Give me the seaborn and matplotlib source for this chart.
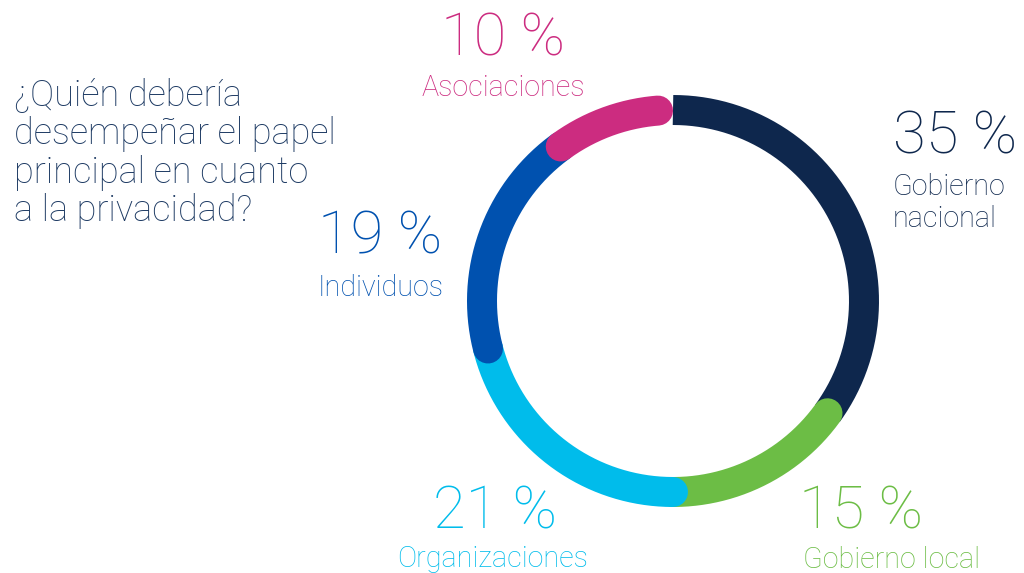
import numpy as np
import matplotlib
matplotlib.use("Agg")
import matplotlib.pyplot as plt
import seaborn as sns

# Survey shares, listed clockwise from 12 o'clock
categories = ["Gobierno nacional", "Gobierno local", "Organizaciones", "Individuos", "Asociaciones"]
labels = ["Gobierno\nnacional", "Gobierno local", "Organizaciones", "Individuos", "Asociaciones"]
shares = [35, 15, 21, 19, 10]
colors = ["#0e274d", "#6cbd45", "#00bceb", "#0051af", "#cc2c80"]
title = "¿Quién debería\ndesempeñar el papel\nprincipal en cuanto\na la privacidad?"

sns.set_theme(style="white")
plt.rcParams["font.family"] = ["Roboto", "DejaVu Sans"]

W, H, DPI = 1024, 573, 100
fig = plt.figure(figsize=(W / DPI, H / DPI), dpi=DPI)
ax = fig.add_axes([0, 0, 1, 1])
ax.set_xlim(0, W)
ax.set_ylim(H, 0)
ax.set_aspect("equal")
ax.axis("off")

cx, cy, r = 673, 301, 191
ring_px = 30
lw = ring_px * 72 / DPI
cap_deg = np.degrees((ring_px / 2) / r)

bounds = np.concatenate([[0], np.cumsum(shares)]) / 100 * 360


def arc(a0, a1, color, z, cap="round"):
    t = np.radians(np.linspace(a0, a1, 300))
    x = cx + r * np.sin(t)
    y = cy - r * np.cos(t)
    ax.plot(x, y, color=color, lw=lw, solid_capstyle=cap, zorder=z)


n = len(shares)
for i in range(n):
    a0, a1 = bounds[i], bounds[i + 1]
    if i == 0:
        # first segment: both ends sit under the neighbouring caps
        arc(a0, a1, colors[i], 1, cap="butt")
    elif i == n - 1:
        arc(a0, a1 - cap_deg, colors[i], i + 1)
    else:
        arc(a0, a1, colors[i], i + 1)

# Label blocks: percent anchor, label anchor (top of first line), alignment
spots = [
    ((893, 137), (893, 173), "left"),
    ((861, 512), (803, 546), "left"),
    ((495, 512), (493, 545), "center"),
    ((318, 237), (318, 274), "left"),
    ((503, 39), (503, 74), "center"),
]
pct_ha = ["left", "center", "center", "left", "center"]
for i, ((px, py), (lx, ly), ha) in enumerate(spots):
    ax.text(px, py, f"{shares[i]} %", color=colors[i], fontsize=43,
            fontweight="light", ha=pct_ha[i], va="center")
    ax.text(lx, ly, labels[i], color=colors[i], fontsize=20.7,
            fontweight="light", ha=ha, va="top", linespacing=1.18)

ax.text(14, 77, title, color="#1d3a63", fontsize=26, fontweight="light",
        ha="left", va="top", linespacing=1.10)

fig.savefig("out.png", dpi=DPI, facecolor="white")
